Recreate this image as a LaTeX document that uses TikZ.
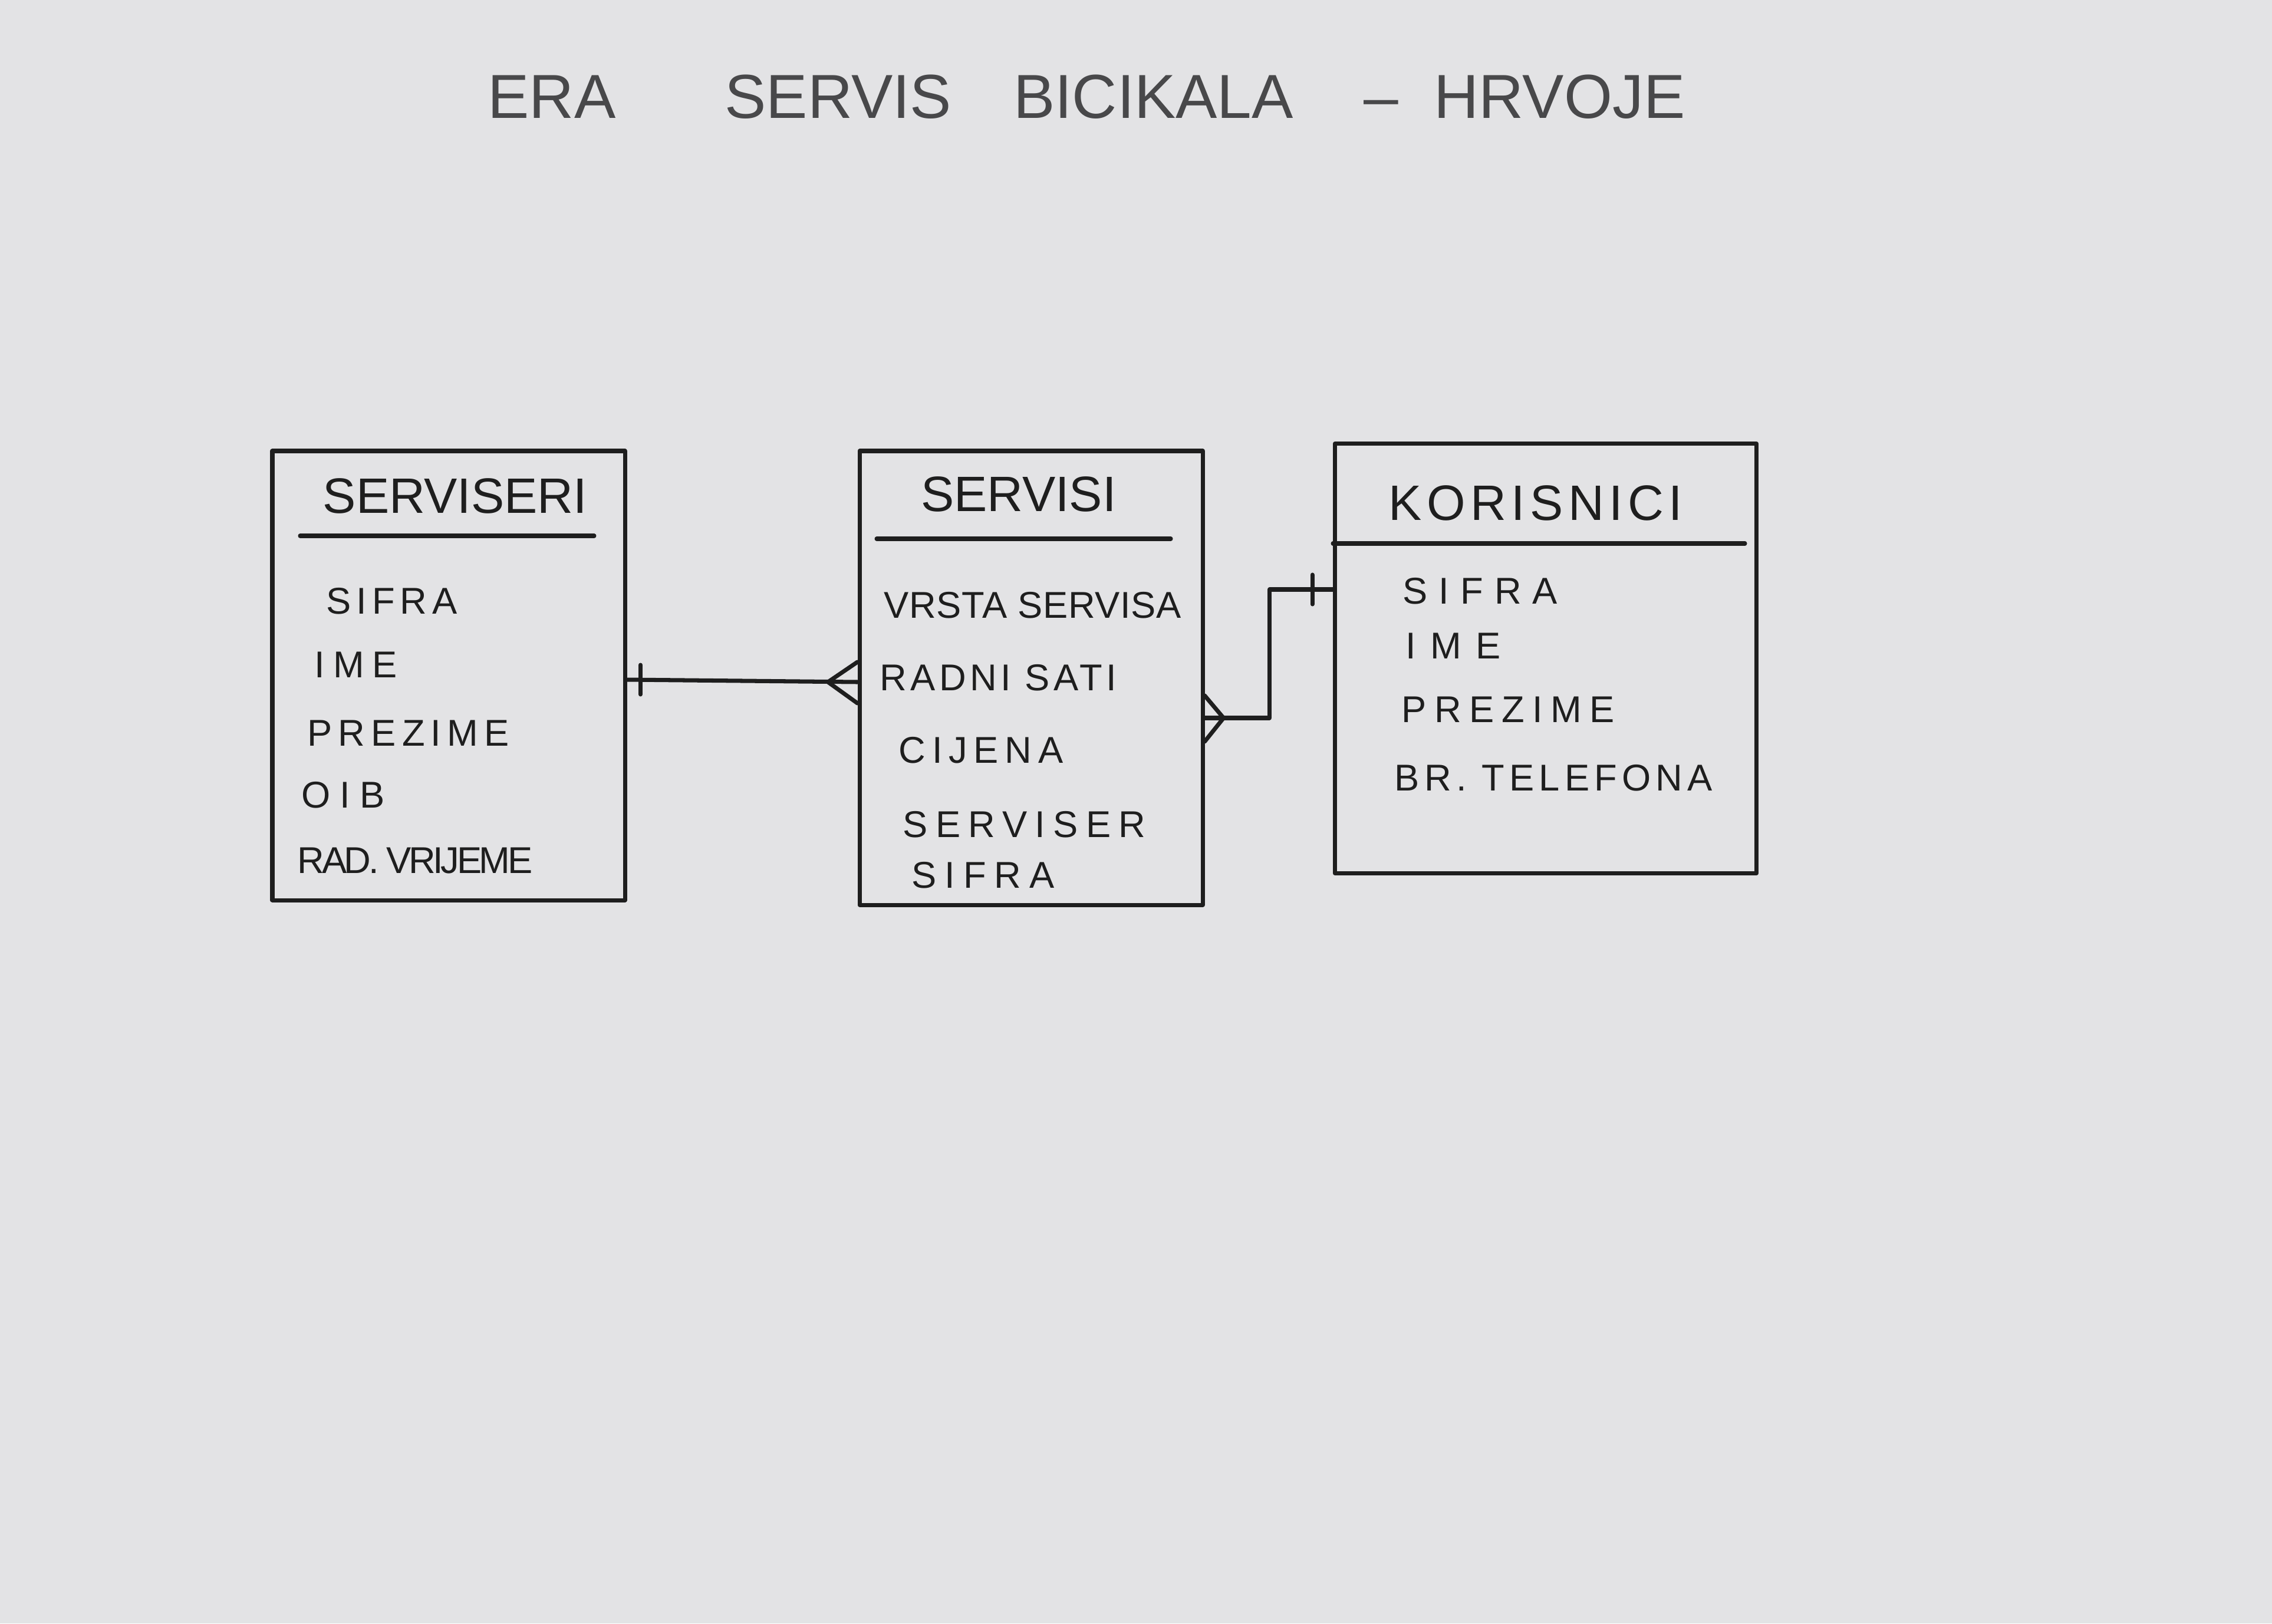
\documentclass[tikz,border=0pt]{standalone}
\usepackage{fontspec}
\setmainfont{Liberation Sans}
\usetikzlibrary{calc}
\definecolor{paper}{HTML}{E3E3E5}
\definecolor{ink}{HTML}{1E1E1E}
\definecolor{titleink}{HTML}{48484A}
\newcommand\lsp[2]{{\addfontfeature{LetterSpace=#1}#2}}
\begin{document}
\begin{tikzpicture}[
  pen/.style={draw=ink, line width=2pt, line cap=round, line join=round},
  entity/.style={pen, rectangle, inner sep=0pt},
  titletext/.style={inner sep=0pt, text=titleink, font=\fontsize{30}{36}\selectfont},
  head/.style={inner sep=0pt, text=ink, font=\fontsize{24}{28}\selectfont},
  attr/.style={anchor=west, inner sep=0pt, text=ink, font=\fontsize{18}{20}\selectfont}
]
\fill[paper] (0,0) rectangle (38.54,-27.54);
\useasboundingbox (0,0) rectangle (38.54,-27.54);

% title
\node[titletext] (title) at (18.43,-1.64) {ERA\hspace{1.85cm}SERVIS\hspace{1.05cm}BICIKALA\hspace{1.2cm}–\hspace{0.6cm}HRVOJE};

% entities
\node[entity, minimum width=5.98cm, minimum height=7.62cm] (serviseri) at (7.61,-11.46) {};
\node[entity, minimum width=5.82cm, minimum height=7.70cm] (servisi) at (17.49,-11.50) {};
\node[entity, minimum width=7.15cm, minimum height=7.29cm] (korisnici) at (26.22,-11.17) {};

% SERVISERI
\node[head] (hServiseri) at (7.72,-8.41) {SERVISERI};
\draw[pen] (5.09,-9.09) -- (10.08,-9.09);
\node[attr] (a1) at (5.53,-10.20) {\lsp{14}{SIFRA}};
\node[attr] (a2) at (5.33,-11.28) {\lsp{22}{IME}};
\node[attr] (a3) at (5.21,-12.44) {\lsp{16}{PREZIME}};
\node[attr] (a4) at (5.11,-13.49) {\lsp{25}{OIB}};
\node[attr] (a5) at (5.04,-14.60) {\lsp{-7}{RAD. VRIJEME}};

% SERVISI
\node[head] (hServisi) at (17.28,-8.38) {SERVISI};
\draw[pen] (14.87,-9.14) -- (19.86,-9.14);
\node[attr] (b1) at (14.99,-10.27) {\lsp{1}{VRSTA SERVISA}};
\node[attr] (b2) at (14.92,-11.50) {\lsp{10}{RADNI SATI}};
\node[attr] (b3) at (15.24,-12.73) {\lsp{17}{CIJENA}};
\node[attr] (b4) at (15.31,-13.99) {\lsp{21}{SERVISER}};
\node[attr] (b5) at (15.46,-14.85) {\lsp{22}{SIFRA}};

% KORISNICI
\node[head] (hKorisnici) at (26.05,-8.53) {\lsp{10}{KORISNICI}};
\draw[pen] (korisnici.west |- 0,-9.22) -- (29.6,-9.22);
\node[attr] (c1) at (23.79,-10.03) {\lsp{30}{SIFRA}};
\node[attr] (c2) at (23.84,-10.96) {\lsp{38}{IME}};
\node[attr] (c3) at (23.77,-12.04) {\lsp{21}{PREZIME}};
\node[attr] (c4) at (23.65,-13.20) {\lsp{13}{BR. TELEFONA}};

% relation SERVISERI -- SERVISI
\draw[pen] ($(serviseri.east)+(0,-0.07)$) coordinate (r1s) -- ($(servisi.west)+(0,-0.07)$) coordinate (r1e);
\draw[pen] ($(r1s)+(0.23,0.25)$) -- ($(r1s)+(0.23,-0.25)$);
\draw[pen] ($(r1e)+(0,0.34)$) -- ($(r1e)+(-0.50,0)$) -- ($(r1e)+(0,-0.36)$);

% relation SERVISI -- KORISNICI
\draw[pen] ($(servisi.east)+(0,-0.68)$) coordinate (r2s) -- ++(1.1,0) |- ($(korisnici.west)+(0,1.17)$) coordinate (r2e);
\draw[pen] ($(r2e)+(-0.35,0.25)$) -- ($(r2e)+(-0.35,-0.25)$);
\draw[pen] ($(r2s)+(0,0.38)$) -- ($(r2s)+(0.32,0)$) -- ($(r2s)+(0,-0.40)$);
\end{tikzpicture}
\end{document}
